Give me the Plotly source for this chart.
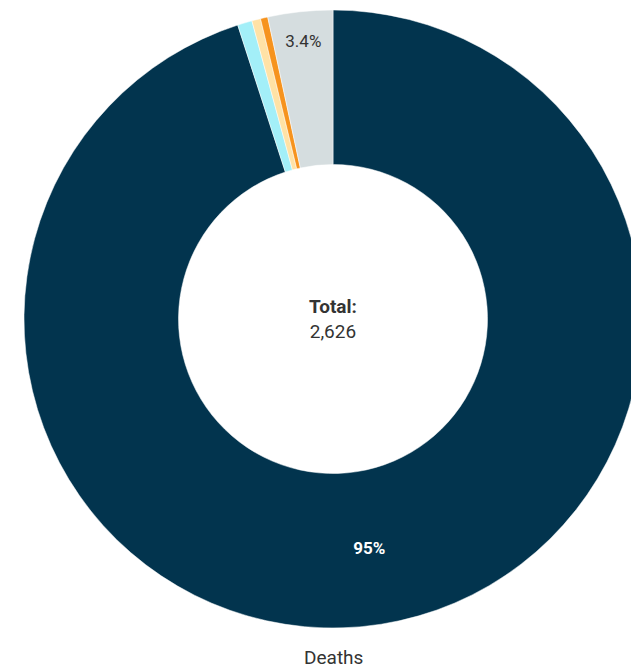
import plotly.graph_objects as go

categories = ["Category A", "Category B", "Category C", "Category D", "Category E"]
values = [2495, 20, 12, 10, 89]
labels_text = ["<b>95%</b>", "", "", "", "3.4%"]
colors = ["#02344e", "#a3eff8", "#ffe2a6", "#f6931e", "#d5dddf"]
text_colors = ["#ffffff", "#333333", "#333333", "#333333", "#333333"]
total_label = "Total:"
total_value = "2,626"
series_name = "Deaths"

fig = go.Figure(go.Pie(
    labels=categories,
    values=values,
    text=labels_text,
    textinfo="text",
    textposition="inside",
    insidetextorientation="horizontal",
    hole=0.5,
    sort=False,
    direction="clockwise",
    rotation=0,
    marker=dict(colors=colors, line=dict(color="#ffffff", width=0.5)),
    insidetextfont=dict(family="Roboto", size=17, color=text_colors),
    showlegend=False,
    hoverinfo="label+value+percent",
))

fig.add_annotation(x=0.5, y=0.5, xref="paper", yref="paper",
                   text=f"<b>{total_label}</b><br>{total_value}",
                   showarrow=False, font=dict(family="Roboto", size=19, color="#333333"),
                   align="center")
fig.add_annotation(x=0.5, y=-0.047, xref="paper", yref="paper",
                   text=series_name, showarrow=False, yanchor="middle",
                   font=dict(family="Roboto", size=19, color="#333333"))

fig.update_layout(
    width=639, height=670,
    margin=dict(l=11, r=0, t=2, b=50),
    paper_bgcolor="#ffffff",
    plot_bgcolor="#ffffff",
    font=dict(family="Roboto"),
)

fig.write_html("out.html")
